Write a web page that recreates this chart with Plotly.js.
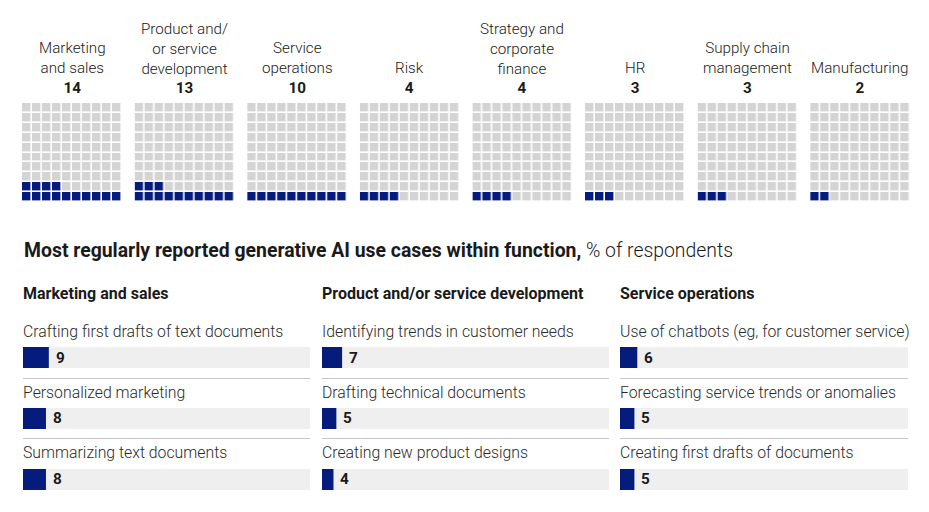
<!DOCTYPE html>
<html>
<head>
<meta charset="utf-8">
<script src="https://cdn.plot.ly/plotly-3.0.1.min.js"></script>
<style>html,body{margin:0;padding:0;background:#fff;}#chart{width:929px;height:512px;}</style>
</head>
<body>
<div id="chart"></div>
<script>
// ---- Data ----
const functionNames = ["Marketing<br>and sales", "Product and/<br>or service<br>development", "Service<br>operations", "Risk", "Strategy and<br>corporate<br>finance", "HR", "Supply chain<br>management", "Manufacturing"];
const functionShares = [14, 13, 10, 4, 4, 3, 3, 2];

const groupNames = ["Marketing and sales", "Product and/or service development", "Service operations"];
const useCases1 = ["Crafting first drafts of text documents", "Personalized marketing", "Summarizing text documents"];
const values1 = [9, 8, 8];
const useCases2 = ["Identifying trends in customer needs", "Drafting technical documents", "Creating new product designs"];
const values2 = [7, 5, 4];
const useCases3 = ["Use of chatbots (eg, for customer service)", "Forecasting service trends or anomalies", "Creating first drafts of documents"];
const values3 = [6, 5, 5];
const AXIS_MAX = 100;

// ---- Styling / layout helpers ----
const W = 929, H = 512;
const NAVY = "#051c7d", CELL = "#d4d4d4", BARBG = "#efefef", LINE = "#c6c6c6", TXT = "#1a1a1a";
const FONT = "Roboto, 'Liberation Sans', Arial, sans-serif";
const px = x => x / W;
const py = y => 1 - y / H;

const traces = [];
const annotations = [];
const layout = {
  width: W, height: H,
  margin: {l: 0, r: 0, t: 0, b: 0},
  paper_bgcolor: "#fff", plot_bgcolor: "rgba(0,0,0,0)",
  showlegend: false,
  font: {family: FONT, color: TXT, size: 15},
  barmode: "overlay",
  annotations: annotations
};

// Waffle grids
const gridX0 = 22, gridPitch = 112.6, gridW = 100, gridTop = 103, gridBot = 202;
functionShares.forEach((v, i) => {
  const n = i + 1;
  const z = [];
  for (let r = 0; r < 10; r++) {
    const row = [];
    for (let c = 0; c < 10; c++) row.push(r * 10 + c < v ? 1 : 0);
    z.push(row);
  }
  traces.push({
    type: "heatmap", z: z, x: [0,1,2,3,4,5,6,7,8,9], y: [0,1,2,3,4,5,6,7,8,9],
    xaxis: "x" + n, yaxis: "y" + n,
    colorscale: [[0, CELL], [1, NAVY]], zmin: 0, zmax: 1, showscale: false,
    xgap: 1.6, ygap: 1.6, hoverinfo: "skip"
  });
  const x0 = gridX0 + i * gridPitch;
  layout["xaxis" + n] = {domain: [px(x0), px(x0 + gridW)], range: [-0.5, 9.5], visible: false, fixedrange: true};
  layout["yaxis" + n] = {domain: [py(gridBot), py(gridTop)], range: [-0.5, 9.5], visible: false, fixedrange: true};
  annotations.push({
    xref: "paper", yref: "paper", x: px(x0 + gridW / 2), y: py(99),
    xanchor: "center", yanchor: "bottom", showarrow: false, align: "center",
    text: functionNames[i] + "<br><b>" + v + "</b>",
    font: {size: 15.2, color: TXT, family: FONT, weight: 300}
  });
});

// Title
annotations.push({
  xref: "paper", yref: "paper", x: px(22), y: py(250.5), xanchor: "left", yanchor: "middle", showarrow: false,
  text: "<b>Most regularly reported generative AI use cases within function,</b> % of respondents",
  font: {size: 19.4, color: TXT, family: FONT, weight: 300}
});

// Bar columns
const colX = [[23, 310], [322, 609], [620, 908]];
const cases = [useCases1, useCases2, useCases3];
const vals = [values1, values2, values3];
const rowTop = 317, rowH = 61, nRows = 3;
const BAR_CENTER = 40.5 / 61, BAR_W = 21 / 61, LABEL_Y = 14 / 61;
for (let k = 0; k < 3; k++) {
  const n = 9 + k;
  const xa = "x" + n, ya = "y" + n;
  const yPos = cases[k].map((_, i) => i + BAR_CENTER);
  traces.push({
    type: "bar", orientation: "h", x: cases[k].map(() => AXIS_MAX), y: yPos, width: BAR_W,
    marker: {color: BARBG, line: {width: 0}}, xaxis: xa, yaxis: ya, hoverinfo: "skip"
  });
  traces.push({
    type: "bar", orientation: "h", x: vals[k], y: yPos, width: BAR_W,
    marker: {color: NAVY, line: {width: 0}}, xaxis: xa, yaxis: ya,
    hovertext: cases[k], hoverinfo: "text+x"
  });
  layout["xaxis" + n] = {domain: [px(colX[k][0]), px(colX[k][1])], range: [0, AXIS_MAX], visible: false, fixedrange: true, anchor: ya};
  layout["yaxis" + n] = {
    domain: [py(rowTop + rowH * nRows + 0.5), py(rowTop - 0.5)], range: [nRows + 0.01, -0.01],
    tickvals: [0, 1, 2, 3], showticklabels: false, showgrid: true, gridcolor: LINE, gridwidth: 1,
    zeroline: false, showline: false, ticks: "", fixedrange: true, anchor: xa
  };
  annotations.push({
    xref: "paper", yref: "paper", x: px(colX[k][0]), xshift: -2, y: py(293), xanchor: "left", yanchor: "middle", showarrow: false,
    text: "<b>" + groupNames[k] + "</b>", font: {size: 16, color: TXT, family: FONT}
  });
  cases[k].forEach((c, i) => {
    annotations.push({
      xref: xa + " domain", yref: ya, x: 0, xshift: -2, y: i + LABEL_Y, xanchor: "left", yanchor: "middle", showarrow: false,
      text: c, font: {size: 15.8, color: "#2a2a2a", family: FONT, weight: 300}
    });
    annotations.push({
      xref: xa, yref: ya, x: vals[k][i], y: i + BAR_CENTER, xanchor: "left", yanchor: "middle", xshift: 5, showarrow: false,
      text: "<b>" + vals[k][i] + "</b>", font: {size: 15.3, color: TXT, family: FONT}
    });
  });
}

Plotly.newPlot("chart", traces, layout, {displayModeBar: false, staticPlot: true});
</script>
</body>
</html>
